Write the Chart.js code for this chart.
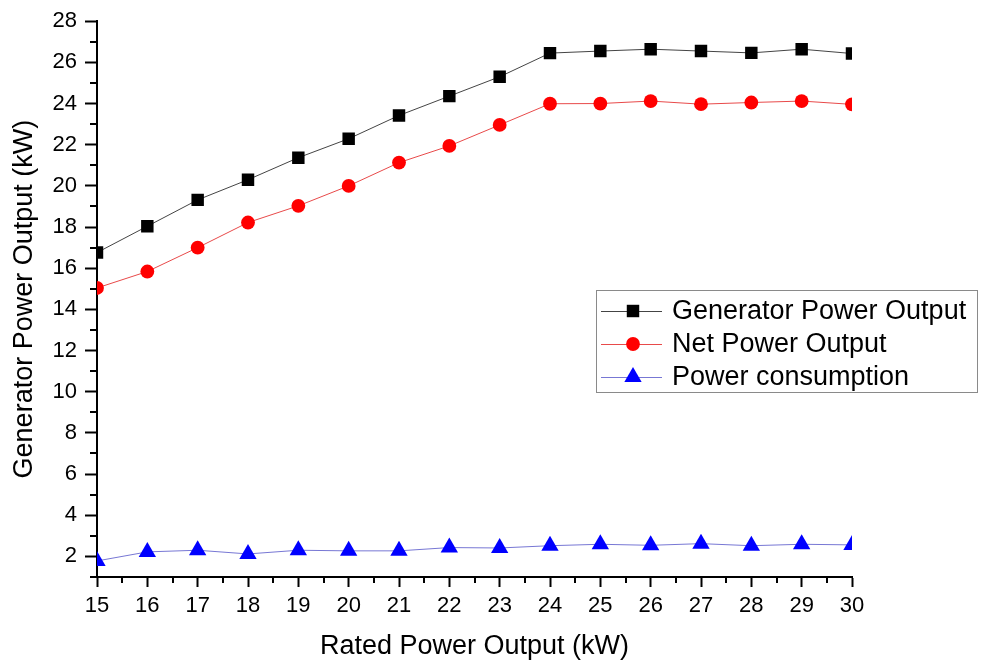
<!DOCTYPE html>
<html>
<head>
<meta charset="utf-8">
<title>Power Output vs Rated Power</title>
<script src="https://cdn.jsdelivr.net/npm/chart.js@4.4.1/dist/chart.umd.min.js"></script>
<style>
  html, body { margin: 0; padding: 0; background: #fff; }
  #wrap { width: 981px; height: 666px; }
</style>
</head>
<body>
<div id="wrap"><canvas id="powerChart" width="981" height="666"></canvas></div>
<script>
// Rated power output (kW) on the x axis
const ratedPower = [15, 16, 17, 18, 19, 20, 21, 22, 23, 24, 25, 26, 27, 28, 29, 30];

// Measured series (kW)
const generatorOutput = [16.76, 18.04, 19.32, 20.30, 21.37, 22.29, 23.42, 24.36, 25.30, 26.45, 26.55, 26.64, 26.55, 26.46, 26.64, 26.43];
const netOutput = [15.04, 15.84, 17.00, 18.22, 19.03, 20.00, 21.13, 21.94, 22.96, 23.99, 24.00, 24.12, 23.97, 24.05, 24.12, 23.96];
const powerConsumption = [1.78, 2.22, 2.30, 2.12, 2.30, 2.27, 2.27, 2.43, 2.41, 2.52, 2.59, 2.54, 2.62, 2.52, 2.59, 2.56];

const seriesNames = ['Generator Power Output', 'Net Power Output', 'Power consumption'];

const FONT = "'Liberation Sans', Arial, sans-serif";

function toPoints(values) {
    return ratedPower.map((x, i) => ({ x: x, y: values[i] }));
}

// Short minor ticks between the labelled ones
const minorTicks = {
    id: 'minorTicks',
    afterDraw(chart) {
        const { ctx, chartArea, scales } = chart;
        ctx.save();
        ctx.strokeStyle = '#000';
        ctx.lineWidth = 2;
        ctx.beginPath();
        for (let v = 1; v < 28; v += 2) {
            const y = Math.round(scales.y.getPixelForValue(v));
            ctx.moveTo(chartArea.left - 7, y);
            ctx.lineTo(chartArea.left, y);
        }
        for (let v = 15.5; v < 30; v += 1) {
            const x = Math.round(scales.x.getPixelForValue(v));
            ctx.moveTo(x, chartArea.bottom);
            ctx.lineTo(x, chartArea.bottom + 6);
        }
        ctx.stroke();
        ctx.restore();
    }
};

// Boxed legend inside the plot, line sample with marker
const boxLegend = {
    id: 'boxLegend',
    afterDraw(chart) {
        const ctx = chart.ctx;
        const bx = 596, by = 290, bw = 381, bh = 102;
        ctx.save();
        ctx.strokeStyle = '#8a8a8a';
        ctx.lineWidth = 1;
        ctx.strokeRect(bx + 0.5, by + 0.5, bw, bh);
        chart.data.datasets.forEach((ds, i) => {
            const y = 311 + i * 33;
            ctx.strokeStyle = ds.borderColor;
            ctx.lineWidth = ds.borderWidth;
            ctx.beginPath();
            ctx.moveTo(601, y + 0.5);
            ctx.lineTo(662, y + 0.5);
            ctx.stroke();
            ctx.fillStyle = ds.pointBackgroundColor;
            ctx.strokeStyle = ds.pointBackgroundColor;
            Chart.helpers.drawPoint(ctx, {
                pointStyle: ds.pointStyle,
                radius: ds.pointRadius,
                rotation: 0,
                borderWidth: 0
            }, 633, y);
            ctx.fillStyle = '#000';
            ctx.font = '27px ' + FONT;
            ctx.textBaseline = 'middle';
            ctx.textAlign = 'left';
            ctx.fillText(ds.label, 672, y + 1);
        });
        ctx.restore();
    }
};

const ctx = document.getElementById('powerChart').getContext('2d');
new Chart(ctx, {
    type: 'line',
    data: {
        datasets: [
            {
                label: seriesNames[0],
                data: toPoints(generatorOutput),
                borderColor: '#444',
                borderWidth: 1,
                pointStyle: 'rect',
                pointRadius: 8.8,
                pointBackgroundColor: '#000',
                pointBorderWidth: 0,
                clip: 0
            },
            {
                label: seriesNames[1],
                data: toPoints(netOutput),
                borderColor: '#e84a4a',
                borderWidth: 1,
                pointStyle: 'circle',
                pointRadius: 6.9,
                pointBackgroundColor: '#ff0000',
                pointBorderWidth: 0,
                clip: 0
            },
            {
                label: seriesNames[2],
                data: toPoints(powerConsumption),
                borderColor: '#7777d4',
                borderWidth: 1,
                pointStyle: 'triangle',
                pointRadius: 10,
                pointBackgroundColor: '#0000ff',
                pointBorderWidth: 0,
                clip: 0
            }
        ]
    },
    options: {
        responsive: false,
        animation: false,
        devicePixelRatio: 1,
        layout: { padding: { top: 20, right: 129, left: 0, bottom: 0 } },
        plugins: {
            legend: { display: false },
            tooltip: { enabled: false }
        },
        scales: {
            x: {
                type: 'linear',
                min: 15,
                max: 30,
                afterFit: (scale) => { scale.height = 89; },
                border: { color: '#000', width: 2 },
                grid: {
                    drawOnChartArea: false,
                    drawTicks: true,
                    tickLength: 10,
                    tickWidth: 2,
                    tickColor: '#000'
                },
                ticks: {
                    stepSize: 1,
                    autoSkip: false,
                    maxRotation: 0,
                    padding: 6,
                    color: '#000',
                    font: { family: FONT, size: 22 }
                },
                title: {
                    display: true,
                    text: 'Rated Power Output (kW)',
                    color: '#000',
                    font: { family: FONT, size: 27 },
                    padding: { top: 0, bottom: 3 }
                }
            },
            y: {
                type: 'linear',
                min: 1,
                max: 28,
                afterFit: (scale) => { scale.width = 97; },
                border: { color: '#000', width: 2 },
                grid: {
                    drawOnChartArea: false,
                    drawTicks: true,
                    tickLength: 12,
                    tickWidth: 2,
                    tickColor: (c) => (c.tick && c.tick.value % 2 === 0 ? '#000' : 'rgba(0,0,0,0)')
                },
                ticks: {
                    stepSize: 1,
                    autoSkip: false,
                    padding: 8,
                    color: '#000',
                    font: { family: FONT, size: 22 },
                    callback: (v) => (v % 2 === 0 ? v : '')
                },
                title: {
                    display: true,
                    text: 'Generator Power Output (kW)',
                    color: '#000',
                    font: { family: FONT, size: 27 },
                    padding: { top: 8, bottom: 0 }
                }
            }
        }
    },
    plugins: [minorTicks, boxLegend]
});
</script>
</body>
</html>
